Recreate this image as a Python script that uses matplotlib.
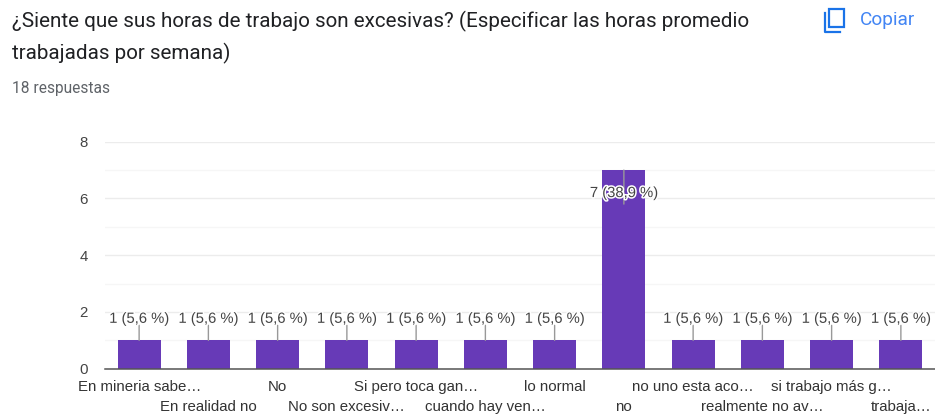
import matplotlib
matplotlib.use('Agg')
import matplotlib.pyplot as plt
import matplotlib.patheffects as pe
from matplotlib.lines import Line2D
from matplotlib.patches import Rectangle

W, H = 935, 415

categories = ['En mineria sabe…', 'En realidad no', 'No', 'No son excesiv…',
              'Si pero toca gan…', 'cuando hay ven…', 'lo normal', 'no',
              'no uno esta aco…', 'realmente no av…', 'si trabajo más g…',
              'trabaja…']
values = [1, 1, 1, 1, 1, 1, 1, 7, 1, 1, 1, 1]
value_labels = ['1 (5,6 %)', '1 (5,6 %)', '1 (5,6 %)', '1 (5,6 %)', '1 (5,6 %)',
                '1 (5,6 %)', '1 (5,6 %)', '7 (38,9 %)', '1 (5,6 %)', '1 (5,6 %)',
                '1 (5,6 %)', '1 (5,6 %)']
y_ticks = [0, 2, 4, 6, 8]

px = 72 / 100  # points per pixel at dpi 100


def fx(x):
    return x / W


def fy(y):
    return 1 - y / H


fig = plt.figure(figsize=(W / 100, H / 100), dpi=100, facecolor='white')
ax = fig.add_axes([fx(104.5), fy(368.7), (W - 104) / W, (368.7 - 141.7) / H])
ax.set_xlim(-0.5, 11.5)
ax.set_ylim(0, 8)
ax.patch.set_alpha(0)
for s in ['top', 'right', 'left']:
    ax.spines[s].set_visible(False)
ax.spines['bottom'].set_color('#555555')
ax.spines['bottom'].set_linewidth(1.1)

ax.set_axisbelow(True)
ax.set_yticks(y_ticks)
ax.set_yticks([1, 3, 5, 7], minor=True)
ax.grid(axis='y', which='major', color='#ececec', lw=1)
ax.grid(axis='y', which='minor', color='#f6f6f6', lw=1)
ax.tick_params(axis='y', which='both', length=0, pad=16.5 * px)
ax.tick_params(axis='x', length=0)
ax.set_xticks([])
for lab in ax.get_yticklabels():
    lab.set_fontfamily('Liberation Sans')
    lab.set_fontsize(15 * px)
    lab.set_color('#444444')

xs = range(len(categories))
ax.bar(xs, values, width=0.62, color='#673ab7', zorder=2)

# etiquetas alternadas en dos filas
for i, name in enumerate(categories):
    off = -18 if i % 2 == 0 else -38
    ax.annotate(name, (i, 0), xytext=(0, off * px), textcoords='offset points',
                ha='center', va='center', fontsize=15 * px, color='#333333',
                family='Liberation Sans', annotation_clip=False)

halo = [pe.withStroke(linewidth=2.2, foreground='white')]
for i, (v, lab) in enumerate(zip(values, value_labels)):
    if v > 4:
        # barra alta: el rotulo va dentro y la linea lo cruza
        ax.annotate('', (i, v), xytext=(0, -34 * px), textcoords='offset points',
                    zorder=3,
                    arrowprops=dict(arrowstyle='-', color='#999999', lw=1,
                                    shrinkA=0, shrinkB=0))
        off = -23
    else:
        ax.annotate('', (i, v), xytext=(0, 15 * px), textcoords='offset points',
                    zorder=3,
                    arrowprops=dict(arrowstyle='-', color='#999999', lw=1,
                                    shrinkA=0, shrinkB=0))
        off = 21.5
    ax.annotate(lab, (i, v), xytext=(0, off * px), textcoords='offset points',
                ha='center', va='center', fontsize=14.8 * px, color='#444444',
                family='Liberation Sans', zorder=4, path_effects=halo)

# cabecera
fig.text(fx(12), fy(21), '¿Siente que sus horas de trabajo son excesivas? (Especificar las horas promedio',
         fontsize=20.6 * px, family='Roboto', color='#202124', va='center')
fig.text(fx(12), fy(53), 'trabajadas por semana)',
         fontsize=20.6 * px, family='Roboto', color='#202124', va='center')
fig.text(fx(12), fy(88), '18 respuestas',
         fontsize=15.5 * px, family='Roboto', color='#5f6368', va='center')
fig.text(fx(860), fy(20), 'Copiar',
         fontsize=19 * px, family='Roboto', color='#4285f4', va='center')

# icono de copiar
blue = '#1a73e8'
fig.add_artist(Rectangle((fx(829), fy(27)), 15 / W, 18 / H, transform=fig.transFigure,
                         fill=False, ec=blue, lw=1.6))
fig.add_artist(Line2D([fx(825), fx(825), fx(840)], [fy(13), fy(32), fy(32)],
                      transform=fig.transFigure, color=blue, lw=1.6))

fig.savefig('out.png', dpi=100)
